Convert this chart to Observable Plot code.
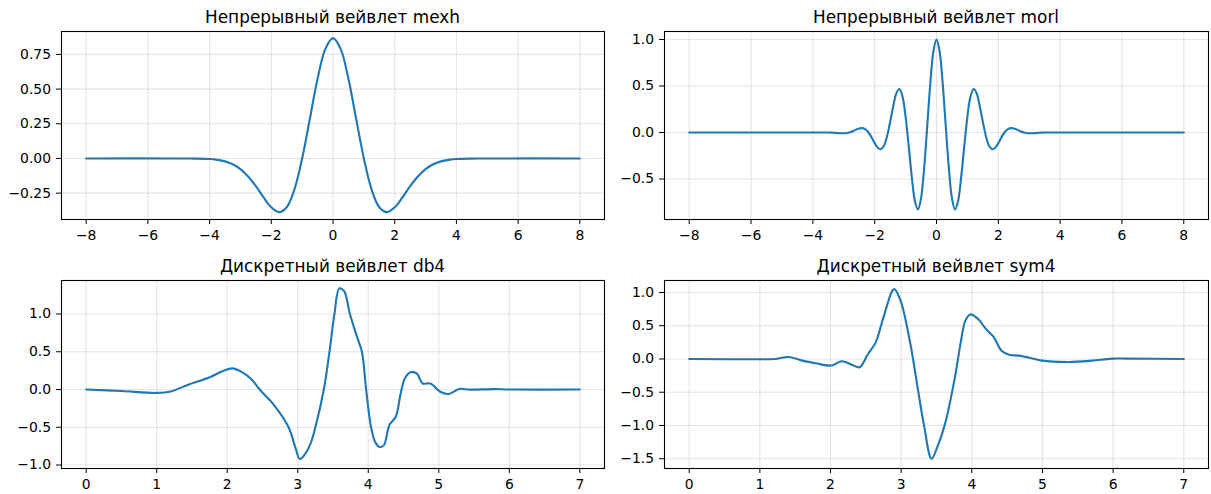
<!DOCTYPE html>
<html>
<head>
<meta charset="utf-8">
<script src="https://cdn.jsdelivr.net/npm/d3@7"></script>
<script src="https://cdn.jsdelivr.net/npm/@observablehq/plot@0.6"></script>
<style>
  html, body { margin: 0; padding: 0; background: #fff; }
  #fig { position: relative; width: 1211px; height: 494px; background: #fff; font-family: "DejaVu Sans", sans-serif; overflow: hidden; }
  .ttl { position: absolute; font-family: "DejaVu Sans", sans-serif; font-size: 16.9px; line-height: 20px; color: #000; text-align: center; white-space: nowrap; }
  .pn { position: absolute; }
</style>
</head>
<body>
<div id="fig"></div>
<script>
// ---- Titles ----
const titles = ["Непрерывный вейвлет mexh", "Непрерывный вейвлет morl", "Дискретный вейвлет db4", "Дискретный вейвлет sym4"];

// ---- Mexican hat (mexh) ----
const mexhX = [-8, -5, -4.5, -4, -3.75, -3.5, -3.25, -3, -2.75, -2.5, -2.25, -2, -1.75, -1.5, -1.25, -1, -0.75, -0.5, -0.25, 0,
               0.25, 0.5, 0.75, 1, 1.25, 1.5, 1.75, 2, 2.25, 2.5, 2.75, 3, 3.25, 3.5, 3.75, 4, 4.5, 5, 8];
const mexhY = [0, 0, -0.001, -0.004, -0.010, -0.021, -0.042, -0.077, -0.130, -0.200, -0.281, -0.352, -0.387, -0.352, -0.223, 0, 0.286, 0.574, 0.788, 0.867,
               0.788, 0.574, 0.286, 0, -0.223, -0.352, -0.387, -0.352, -0.281, -0.200, -0.130, -0.077, -0.042, -0.021, -0.010, -0.004, -0.001, 0, 0];

// ---- Morlet (morl) ----
const morlX = [-8, -3.5, -3.4, -3.3, -3.2, -3.1, -3.0, -2.9, -2.8, -2.7, -2.6, -2.5, -2.4, -2.3, -2.2, -2.1, -2.0, -1.9, -1.8, -1.7, -1.6,
               -1.5, -1.4, -1.3, -1.2, -1.1, -1.0, -0.9, -0.8, -0.7, -0.6, -0.5, -0.4, -0.3, -0.2, -0.1, 0,
               0.1, 0.2, 0.3, 0.4, 0.5, 0.6, 0.7, 0.8, 0.9, 1.0, 1.1, 1.2, 1.3, 1.4, 1.5, 1.6, 1.7, 1.8, 1.9, 2.0,
               2.1, 2.2, 2.3, 2.4, 2.5, 2.6, 2.7, 2.8, 2.9, 3.0, 3.1, 3.2, 3.3, 3.4, 3.5, 8];
const morlY = [0, 0.000, -0.001, -0.003, -0.006, -0.008, -0.008, -0.005, 0.003, 0.016, 0.031, 0.044, 0.047, 0.034, 0.000, -0.052, -0.114, -0.164, -0.180, -0.142, -0.040,
               0.113, 0.283, 0.420, 0.467, 0.387, 0.172, -0.141, -0.475, -0.733, -0.827, -0.707, -0.384, 0.068, 0.530, 0.873, 1.000,
               0.873, 0.530, 0.068, -0.384, -0.707, -0.827, -0.733, -0.475, -0.141, 0.172, 0.387, 0.467, 0.420, 0.283, 0.113, -0.040, -0.142, -0.180, -0.164, -0.114,
               -0.052, 0.000, 0.034, 0.047, 0.044, 0.031, 0.016, 0.003, -0.005, -0.008, -0.008, -0.006, -0.003, -0.001, 0.000, 0];

// ---- Daubechies 4 (db4) ----
const db4X = [0, 0.5, 1.0, 1.2, 1.44, 1.77, 1.95, 2.07, 2.21, 2.35, 2.46, 2.65, 2.87, 2.97, 3.03, 3.1, 3.18, 3.25, 3.37, 3.45, 3.52, 3.59, 3.66, 3.74, 3.84, 3.91, 3.97, 4.04, 4.1, 4.16, 4.22, 4.3, 4.39, 4.46, 4.52, 4.6, 4.69, 4.77, 4.88, 5.02, 5.13, 5.3, 5.4, 5.8, 6, 7];
const db4Y = [0, -0.02, -0.045, -0.025, 0.06, 0.17, 0.25, 0.28, 0.23, 0.13, 0.0, -0.19, -0.5, -0.78, -0.92, -0.86, -0.72, -0.5, 0.0, 0.5, 1.0, 1.34, 1.3, 1.0, 0.7, 0.5, 0.0, -0.5, -0.7, -0.76, -0.74, -0.47, -0.36, -0.05, 0.15, 0.23, 0.21, 0.08, 0.08, -0.03, -0.06, 0.01, 0.0, 0.005, 0, 0];

// ---- Symlet 4 (sym4) ----
const sym4X = [0, 1.0, 1.21, 1.41, 1.6, 1.79, 1.98, 2.04, 2.16, 2.31, 2.41, 2.53, 2.64, 2.75, 2.9, 2.99, 3.13, 3.21, 3.32, 3.43, 3.51, 3.62, 3.76, 3.84, 3.91, 3.98, 4.09, 4.2, 4.31, 4.42, 4.53, 4.66, 4.83, 4.99, 5.37, 5.7, 5.98, 6.2, 7];
const sym4Y = [0, -0.005, 0, 0.03, -0.025, -0.065, -0.10, -0.09, -0.035, -0.09, -0.125, 0.075, 0.25, 0.63, 1.05, 0.88, 0.23, -0.28, -0.98, -1.50, -1.33, -0.98, -0.28, 0.23, 0.58, 0.67, 0.60, 0.45, 0.33, 0.125, 0.065, 0.05, 0.015, -0.025, -0.045, -0.025, 0.005, 0.005, 0];

// ---- Ticks ----
const contTicks = [-8, -6, -4, -2, 0, 2, 4, 6, 8];
const discTicks = [0, 1, 2, 3, 4, 5, 6, 7];
const mexhYTicks = [-0.25, 0, 0.25, 0.5, 0.75];
const morlYTicks = [-0.5, 0, 0.5, 1.0];
const db4YTicks = [-1.0, -0.5, 0, 0.5, 1.0];
const sym4YTicks = [-1.5, -1.0, -0.5, 0, 0.5, 1.0];

const fig = document.getElementById("fig");
const blue = "#1f77b4";

function panel(cfg) {
  const data = cfg.xs.map((x, i) => ({x, y: cfg.ys[i]}));
  const fmtY = d3.format(cfg.yFmt);
  const fmtX = d3.format("d");
  const chart = Plot.plot({
    width: cfg.width, height: cfg.height,
    marginLeft: cfg.ml, marginRight: cfg.mr, marginTop: cfg.mt, marginBottom: cfg.mb,
    style: {fontFamily: "'DejaVu Sans', sans-serif", fontSize: "13.9px", color: "#000", background: "transparent", overflow: "visible"},
    x: {domain: cfg.xDomain, label: null},
    y: {domain: cfg.yDomain, label: null},
    marks: [
      Plot.gridX(cfg.xTicks, {stroke: "#b0b0b0", strokeOpacity: 0.33, strokeWidth: 1.1}),
      Plot.gridY(cfg.yTicks, {stroke: "#b0b0b0", strokeOpacity: 0.33, strokeWidth: 1.1}),
      Plot.line(data, {x: "x", y: "y", stroke: blue, strokeWidth: 2.1, curve: "catmull-rom"}),
      Plot.frame({stroke: "#000", strokeWidth: 1.1}),
      Plot.axisX(cfg.xTicks, {tickSize: 5, tickPadding: 5.5, tickFormat: fmtX, fontSize: 13.9, label: null}),
      Plot.axisY(cfg.yTicks, {tickSize: 5, tickPadding: 5.5, tickFormat: fmtY, fontSize: 13.9, label: null})
    ]
  });
  const wrap = document.createElement("div");
  wrap.className = "pn";
  wrap.style.left = cfg.left + "px";
  wrap.style.top = cfg.top + "px";
  wrap.appendChild(chart);
  fig.appendChild(wrap);

  const t = document.createElement("div");
  t.className = "ttl";
  t.textContent = cfg.title;
  const cx = cfg.left + cfg.ml + (cfg.width - cfg.ml - cfg.mr) / 2;
  t.style.left = (cx - 200) + "px";
  t.style.width = "400px";
  t.style.top = cfg.titleTop + "px";
  fig.appendChild(t);
}

panel({title: titles[0], xs: mexhX, ys: mexhY, xDomain: [-8.8, 8.8], yDomain: [-0.44, 0.915], xTicks: contTicks, yTicks: mexhYTicks, yFmt: ".2f",
       left: 0, top: 0, width: 610, height: 249, ml: 61, mr: 6, mt: 31, mb: 30, titleTop: 7});
panel({title: titles[1], xs: morlX, ys: morlY, xDomain: [-8.8, 8.8], yDomain: [-0.935, 1.086], xTicks: contTicks, yTicks: morlYTicks, yFmt: ".1f",
       left: 603, top: 0, width: 608, height: 249, ml: 61, mr: 3, mt: 31, mb: 30, titleTop: 7});
panel({title: titles[2], xs: db4X, ys: db4Y, xDomain: [-0.35, 7.35], yDomain: [-1.046, 1.444], xTicks: discTicks, yTicks: db4YTicks, yFmt: ".1f",
       left: 0, top: 250, width: 610, height: 244, ml: 61, mr: 6, mt: 30, mb: 26, titleTop: 256});
panel({title: titles[3], xs: sym4X, ys: sym4Y, xDomain: [-0.35, 7.35], yDomain: [-1.647, 1.18], xTicks: discTicks, yTicks: sym4YTicks, yFmt: ".1f",
       left: 603, top: 250, width: 608, height: 244, ml: 61, mr: 3, mt: 30, mb: 26, titleTop: 256});
</script>
</body>
</html>
